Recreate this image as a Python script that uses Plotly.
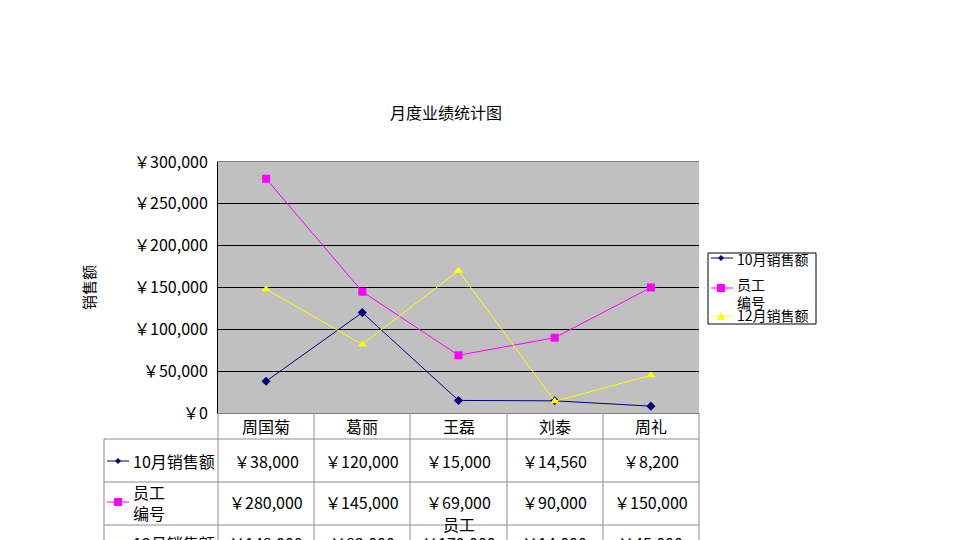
import plotly.graph_objects as go

# 数据
categories = ["周国菊", "葛丽", "王磊", "刘泰", "周礼"]
series_names = ["10月销售额", "员工<br>编号", "12月销售额"]
oct_sales = [38000, 120000, 15000, 14560, 8200]
staff_no = [280000, 145000, 69000, 90000, 150000]
dec_sales = [148000, 82000, 170000, 14000, 45000]
y_ticks = [0, 50000, 100000, 150000, 200000, 250000, 300000]

W, H = 960, 540
OFF = 8  # 页面 body 默认边距
FONT = "Noto Sans CJK SC"


def px(x):
    return (x - OFF) / W


def py(y):
    return 1 - (y - OFF) / H


colors = ["#000080", "#FF00FF", "#FFFF00"]
symbols = ["diamond", "square", "triangle-up"]
sizes = [7, 8, 8]
all_series = [oct_sales, staff_no, dec_sales]

fig = go.Figure()
for name, vals, c, s, sz in zip(series_names, all_series, colors, symbols, sizes):
    fig.add_trace(go.Scatter(
        x=categories, y=vals, name=name, mode="lines+markers",
        line=dict(color=c, width=1),
        marker=dict(color=c, symbol=s, size=sz),
        showlegend=False,
    ))


def marker_path(cx, cy, s, r=4):
    if s == "diamond":
        pts = [(cx - r, cy), (cx, cy - r), (cx + r, cy), (cx, cy + r)]
    elif s == "square":
        pts = [(cx - r, cy - r), (cx + r, cy - r), (cx + r, cy + r), (cx - r, cy + r)]
    else:
        pts = [(cx - r, cy + r), (cx + r, cy + r), (cx, cy - r)]
    return "M" + " L".join(f"{px(a)},{py(b)}" for a, b in pts) + " Z"


# 数据表格线
grid_color = "#8C8C8C"
shapes = []
for yy in [439, 482, 525]:
    shapes.append(dict(type="line", xref="paper", yref="paper",
                       x0=px(104), x1=px(699), y0=py(yy), y1=py(yy),
                       line=dict(color=grid_color, width=1)))
shapes.append(dict(type="line", xref="paper", yref="paper",
                   x0=px(104), x1=px(104), y0=py(439), y1=py(545),
                   line=dict(color=grid_color, width=1)))
for xx in [218, 314, 410, 507, 603, 699]:
    shapes.append(dict(type="line", xref="paper", yref="paper",
                       x0=px(xx), x1=px(xx), y0=py(413), y1=py(545),
                       line=dict(color=grid_color, width=1)))

annotations = []

# 表格行：图例符号、行标签、数值
row_centers = [461, 502, 543]
for rc, name, vals, c, s in zip(row_centers, series_names, all_series, colors, symbols):
    shapes.append(dict(type="line", xref="paper", yref="paper",
                       x0=px(107), x1=px(129), y0=py(rc), y1=py(rc),
                       line=dict(color=c, width=1)))
    shapes.append(dict(type="path", xref="paper", yref="paper",
                       path=marker_path(118, rc, s, 3 if s == "diamond" else 4),
                       fillcolor=c, line=dict(color=c, width=0)))
    annotations.append(dict(x=px(131), y=py(rc), xref="paper", yref="paper",
                            text=name, showarrow=False, xanchor="left", yanchor="middle",
                            align="left",
                            font=dict(size=16, color="#000000", family=FONT)))
    for cat, v in zip(categories, vals):
        annotations.append(dict(x=cat, y=py(rc), xref="x", yref="paper",
                                text=f"￥{v:,}", showarrow=False,
                                xanchor="center", yanchor="middle",
                                font=dict(size=16, color="#000000", family=FONT)))

# 类别标签
for cat in categories:
    annotations.append(dict(x=cat, y=py(426), xref="x", yref="paper",
                            text=cat, showarrow=False,
                            xanchor="center", yanchor="middle",
                            font=dict(size=16, color="#000000", family=FONT)))

# 图例（手绘）
shapes.append(dict(type="rect", xref="paper", yref="paper",
                   x0=px(708), x1=px(816), y0=py(324), y1=py(253),
                   fillcolor="white", line=dict(color="#000000", width=1), layer="below"))
legend_rows = [258, 288, 316]
legend_text_y = [259, 293, 315]
for ly, ty, name, c, s in zip(legend_rows, legend_text_y, series_names, colors, symbols):
    shapes.append(dict(type="line", xref="paper", yref="paper",
                       x0=px(711), x1=px(733), y0=py(ly), y1=py(ly),
                       line=dict(color=c, width=1)))
    shapes.append(dict(type="path", xref="paper", yref="paper",
                       path=marker_path(721, ly, s, 3 if s == "diamond" else 4),
                       fillcolor=c, line=dict(color=c, width=0)))
    annotations.append(dict(x=px(735), y=py(ty), xref="paper", yref="paper",
                            text=name, showarrow=False, xanchor="left", yanchor="middle",
                            align="left",
                            font=dict(size=14, color="#000000", family=FONT)))

# 标题、坐标轴标题
annotations.append(dict(x=px(446), y=py(112), xref="paper", yref="paper",
                        text="月度业绩统计图", showarrow=False,
                        xanchor="center", yanchor="middle",
                        font=dict(size=16, color="#000000", family=FONT)))
annotations.append(dict(x=px(88), y=py(288), xref="paper", yref="paper",
                        text="销售额", showarrow=False, textangle=-90,
                        xanchor="center", yanchor="middle",
                        font=dict(size=15, color="#000000", family=FONT)))
annotations.append(dict(x=px(459), y=py(524), xref="paper", yref="paper",
                        text="员工", showarrow=False,
                        xanchor="center", yanchor="middle",
                        font=dict(size=16, color="#000000", family=FONT)))

fig.update_layout(
    width=W, height=H,
    margin=dict(l=0, r=0, t=0, b=0, autoexpand=False),
    paper_bgcolor="white",
    plot_bgcolor="#C0C0C0",
    font=dict(family=FONT, size=16, color="#000000"),
    showlegend=False,
    xaxis=dict(
        domain=[px(218), px(699)], range=[-0.5, 4.5],
        showticklabels=False, ticks="", showgrid=False,
        showline=True, linecolor="#808080", mirror=True, zeroline=False,
    ),
    yaxis=dict(
        domain=[py(413), py(162)], range=[0, 300000],
        tickvals=y_ticks, ticktext=[f"￥{v:,}" for v in y_ticks],
        ticks="", ticklabelstandoff=6,
        showgrid=True, gridcolor="#000000", gridwidth=1,
        showline=True, linecolor="#000000", mirror=False, zeroline=False,
        tickfont=dict(size=16, family=FONT),
    ),
    shapes=shapes,
    annotations=annotations,
)

fig.write_html("out.html")
